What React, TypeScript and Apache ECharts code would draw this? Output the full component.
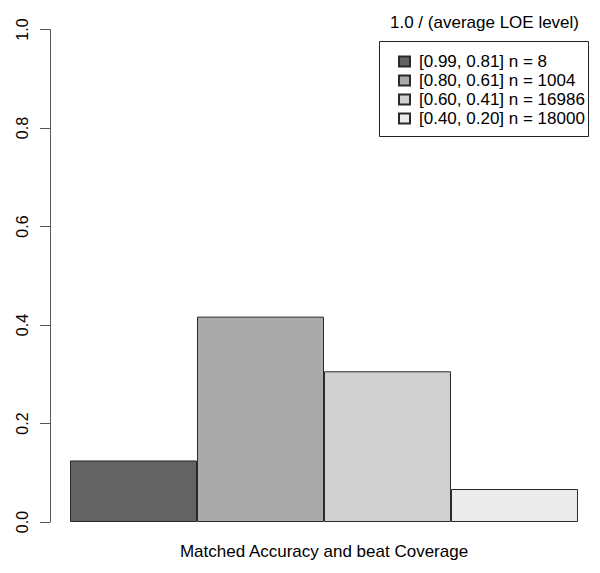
import React, { useEffect, useRef } from "react";
import * as echarts from "echarts";

const categories = ["[0.99, 0.81] n = 8", "[0.80, 0.61] n = 1004", "[0.60, 0.41] n = 16986", "[0.40, 0.20] n = 18000"];
const values = [0.125, 0.417, 0.306, 0.067];
const colors = ["#636363", "#aaaaaa", "#d0d0d0", "#ebebeb"];
const yTicks = [0, 0.2, 0.4, 0.6, 0.8, 1.0];
const legendTitle = "1.0 / (average LOE level)";
const xTitle = "Matched Accuracy and beat Coverage";

const FONT = "'Liberation Sans', Arial, Helvetica, sans-serif";

export default function App() {
  const ref = useRef<HTMLDivElement>(null);
  useEffect(() => {
    document.body.style.margin = "0";
    if (!ref.current) return;
    const chart = echarts.init(ref.current, undefined, { renderer: "svg" });
    const series = categories.map((name, i) => ({
      name,
      type: "bar",
      stack: "all",
      barCategoryGap: "0%",
      data: categories.map((_, j) => (j === i ? values[i] : "-")),
      itemStyle: { color: colors[i], borderColor: "#2a2a2a", borderWidth: 1 },
      emphasis: { disabled: true },
    }));
    chart.setOption({
      animation: false,
      textStyle: { fontFamily: FONT },
      grid: { left: 70, right: 22, top: 29.5, bottom: 51, containLabel: false },
      xAxis: {
        type: "category",
        data: categories,
        boundaryGap: true,
        axisLine: { show: false },
        axisTick: { show: false },
        axisLabel: { show: false },
        name: xTitle,
        nameLocation: "middle",
        nameGap: 21,
        nameTextStyle: { fontSize: 17, color: "#000", fontFamily: FONT },
      },
      yAxis: {
        type: "value",
        min: yTicks[0],
        max: yTicks[yTicks.length - 1],
        interval: 0.2,
        offset: 20,
        axisLine: { show: true, lineStyle: { color: "#555", width: 1 } },
        axisTick: { show: true, length: 10, lineStyle: { color: "#555", width: 1 } },
        splitLine: { show: false },
        axisLabel: {
          rotate: 90,
          margin: 20,
          fontSize: 16,
          color: "#000",
          fontFamily: FONT,
          formatter: (v: number) => v.toFixed(1),
        },
      },
      legend: {
        orient: "vertical",
        left: 393,
        top: 47,
        itemWidth: 11,
        itemHeight: 10,
        itemGap: 0,
        icon: "rect",
        selectedMode: false,
        data: categories,
        textStyle: { fontSize: 17, color: "#000", lineHeight: 19, padding: [0, 0, 0, 4], fontFamily: FONT },
      },
      graphic: [
        {
          type: "rect",
          shape: { x: 379.5, y: 41.5, width: 209, height: 95 },
          style: { fill: "none", stroke: "#222", lineWidth: 1 },
          silent: true,
        },
        {
          type: "text",
          x: 484.5,
          y: 22,
          style: {
            text: legendTitle,
            fontSize: 17,
            fill: "#000",
            align: "center",
            verticalAlign: "middle",
            fontFamily: FONT,
          },
          silent: true,
        },
      ],
      series,
    });
    return () => chart.dispose();
  }, []);
  return <div ref={ref} style={{ width: 600, height: 573 }} />;
}
